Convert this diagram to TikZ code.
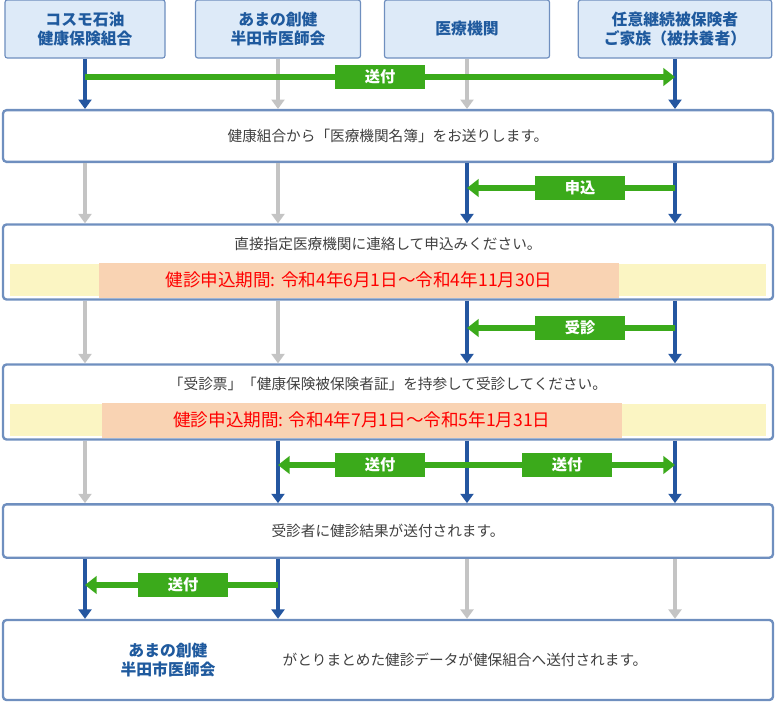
\documentclass[tikz,border=0pt]{standalone}
\usepackage{fontspec}
\setmainfont{Noto Sans CJK JP}
\usetikzlibrary{calc,positioning,arrows.meta}
\definecolor{hdblue}{HTML}{1F5A9E}
\definecolor{hdfill}{HTML}{DDEAF8}
\definecolor{bandline}{HTML}{6F8FBF}
\definecolor{flowgreen}{HTML}{3BAA1B}
\definecolor{darrow}{HTML}{2456A0}
\definecolor{larrow}{HTML}{C4C4C4}
\definecolor{ystrip}{HTML}{FBF5C3}
\definecolor{pbox}{HTML}{F9D3B3}
\tikzset{
  header/.style={rectangle, draw=bandline, fill=hdfill, rounded corners=2pt, line width=1pt,
    minimum height=1.74cm, text=hdblue, font=\fontsize{13.5}{16}\selectfont\bfseries, align=center, inner sep=0pt},
  band/.style={rectangle, draw=bandline, fill=white, rounded corners=3pt, line width=2pt,
    minimum width=23.1cm, inner sep=0pt},
  btext/.style={font=\fontsize{12.5}{15}\selectfont, text=black!75},
  strip/.style={rectangle, fill=ystrip, minimum width=22.65cm, minimum height=0.95cm, inner sep=0pt},
  period/.style={rectangle, fill=pbox, minimum width=15.6cm, minimum height=1.05cm, text=red, font=\fontsize{15}{18}\selectfont, inner sep=0pt},
  gray arrow/.style={draw=larrow, line width=3pt, -{Triangle[length=8pt,width=11pt]}},
  blue arrow/.style={draw=darrow, line width=3pt, -{Triangle[length=8pt,width=11pt]}},
  flow/.style={draw=flowgreen, line width=5.5pt, -{Triangle[length=10pt,width=15pt]}},
  flowlabel/.style={rectangle, fill=flowgreen, text=white, font=\fontsize{13}{15}\selectfont\bfseries, minimum width=2.7cm, minimum height=0.72cm, inner sep=0pt}
}
\begin{document}
\begin{tikzpicture}[x=0.03cm, y=-0.03cm]
\useasboundingbox (0,0) rectangle (776,702);

% headers
\node[header, minimum width=4.8cm] (cosmo) at (85,29) {コスモ石油\\健康保険組合};
\node[header, minimum width=4.95cm] (amano) at (278,29) {あまの創健\\半田市医師会};
\node[header, minimum width=4.95cm] (iryo) at (467,29) {医療機関};
\node[header, minimum width=5.8cm] (kazoku) at (675,29) {任意継続被保険者\\ご家族（被扶養者）};

% bands
\node[band, minimum height=1.55cm] (b1) at (388,136) {};
\node[btext] at (388,136) {健康組合から「医療機関名簿」をお送りします。};
\node[band, minimum height=2.25cm] (b2) at (388,262) {};
\node[btext] at (388,244) {直接指定医療機関に連絡して申込みください。};
\node[strip] (s2) at (388,280) {};
\node[period] (p2) at (359,280) {健診申込期間: 令和4年6月1日～令和4年11月30日};
\node[band, minimum height=2.25cm] (b3) at (388,402) {};
\node[btext] at (388,384) {「受診票」「健康保険被保険者証」を持参して受診してください。};
\node[strip] (s3) at (388,420) {};
\node[period] (p3) at (362,420) {健診申込期間: 令和4年7月1日～令和5年1月31日};
\node[band, minimum height=1.6cm] (b4) at (388,531) {};
\node[btext] at (388,531) {受診者に健診結果が送付されます。};
\node[band, minimum height=2.4cm] (b5) at (388,660) {};
\node[font=\fontsize{13.5}{16}\selectfont\bfseries, text=hdblue, align=center] at (168,660) {あまの創健\\半田市医師会};
\node[btext] at (465,660) {がとりまとめた健診データが健保組合へ送付されます。};

% header -> band 1
\draw[blue arrow] (cosmo.south) -- (cosmo.south |- b1.north);
\draw[gray arrow] (amano.south) -- (amano.south |- b1.north);
\draw[gray arrow] (iryo.south) -- (iryo.south |- b1.north);
\draw[blue arrow] (kazoku.south) -- (kazoku.south |- b1.north);
\draw[flow] (cosmo.south |- 0,77) -- (kazoku.south |- 0,77);
\node[flowlabel] at (380,77) {送付};

% band 1 -> band 2
\draw[gray arrow] (cosmo.south |- b1.south) -- (cosmo.south |- b2.north);
\draw[gray arrow] (amano.south |- b1.south) -- (amano.south |- b2.north);
\draw[blue arrow] (iryo.south |- b1.south) -- (iryo.south |- b2.north);
\draw[blue arrow] (kazoku.south |- b1.south) -- (kazoku.south |- b2.north);
\draw[flow] (kazoku.south |- 0,188) -- (iryo.south |- 0,188);
\node[flowlabel] at (580,188) {申込};

% band 2 -> band 3
\draw[gray arrow] (cosmo.south |- b2.south) -- (cosmo.south |- b3.north);
\draw[gray arrow] (amano.south |- b2.south) -- (amano.south |- b3.north);
\draw[blue arrow] (iryo.south |- b2.south) -- (iryo.south |- b3.north);
\draw[blue arrow] (kazoku.south |- b2.south) -- (kazoku.south |- b3.north);
\draw[flow] (kazoku.south |- 0,328) -- (iryo.south |- 0,328);
\node[flowlabel] at (580,328) {受診};

% band 3 -> band 4
\draw[gray arrow] (cosmo.south |- b3.south) -- (cosmo.south |- b4.north);
\draw[blue arrow] (amano.south |- b3.south) -- (amano.south |- b4.north);
\draw[blue arrow] (iryo.south |- b3.south) -- (iryo.south |- b4.north);
\draw[blue arrow] (kazoku.south |- b3.south) -- (kazoku.south |- b4.north);
\draw[flow] (iryo.south |- 0,465) -- (amano.south |- 0,465);
\draw[flow] (iryo.south |- 0,465) -- (kazoku.south |- 0,465);
\node[flowlabel] at (380,465) {送付};
\node[flowlabel] at (567,465) {送付};

% band 4 -> band 5
\draw[blue arrow] (cosmo.south |- b4.south) -- (cosmo.south |- b5.north);
\draw[blue arrow] (amano.south |- b4.south) -- (amano.south |- b5.north);
\draw[gray arrow] (iryo.south |- b4.south) -- (iryo.south |- b5.north);
\draw[gray arrow] (kazoku.south |- b4.south) -- (kazoku.south |- b5.north);
\draw[flow] (amano.south |- 0,585) -- (cosmo.south |- 0,585);
\node[flowlabel] at (183,585) {送付};

\end{tikzpicture}
\end{document}
